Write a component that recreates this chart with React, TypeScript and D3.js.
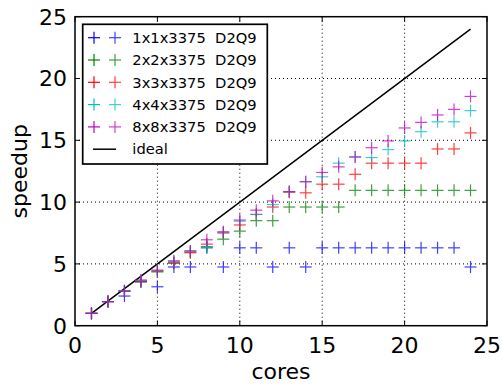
import * as d3 from 'd3';

const cores = [1, 2, 3, 4, 5, 6, 7, 8, 9, 10, 11, 12, 13, 14, 15, 16, 17, 18, 19, 20, 21, 22, 23, 24];

const s1x1 = [1.0, 1.95, 2.4, 3.55, 3.15, 4.75, 4.75, 6.3, 4.75, 6.3, 6.3, 4.75, 6.3, 4.75, 6.3, 6.3, 6.3, 6.3, 6.3, 6.3, 6.3, 6.3, 6.3, 4.75];
const s2x2 = [1.0, 1.95, 2.8, 3.55, 4.35, 5.05, 5.95, 6.4, 7.0, 7.65, 8.5, 8.5, 9.6, 9.6, 9.6, 9.6, 10.95, 10.95, 10.95, 10.95, 10.95, 10.95, 10.95, 10.95];
const s3x3 = [1.0, 1.95, 2.8, 3.6, 4.4, 5.1, 5.9, 6.6, 7.5, 8.15, 9.0, 9.6, 10.8, 10.75, 11.45, 11.45, 12.25, 13.15, 13.15, 13.15, 13.15, 14.3, 14.3, 15.6];
const s4x4 = [1.0, 1.95, 2.85, 3.65, 4.45, 5.2, 6.05, 6.35, 7.55, 8.45, 9.0, 9.8, 10.85, 11.65, 12.05, 13.15, 13.65, 13.6, 14.25, 14.95, 15.7, 16.5, 16.5, 17.4];
const s8x8 = [1.0, 1.95, 2.8, 3.7, 4.5, 5.25, 6.05, 6.95, 7.6, 8.55, 9.35, 10.1, 10.85, 11.65, 12.4, 12.85, 13.65, 14.4, 14.95, 16.0, 16.45, 17.05, 17.5, 18.55];

const seriesNames = ['1x1x3375  D2Q9', '2x2x3375  D2Q9', '3x3x3375  D2Q9', '4x4x3375  D2Q9', '8x8x3375  D2Q9'];
const seriesColors = ['#0000ff', '#008000', '#ff0000', '#00bfbf', '#bf00bf'];
const seriesValues = [s1x1, s2x2, s3x3, s4x4, s8x8];

const ideal = [1, 24];
const ticks = [0, 5, 10, 15, 20, 25];

const font = 'DejaVu Sans, sans-serif';

// one "+" marker
const Plus = ({ x, y, color, opacity }: { x: number; y: number; color: string; opacity: number }) => (
  <g stroke={color} strokeWidth={1.2} opacity={opacity}>
    <line x1={x - 6} x2={x + 6} y1={y} y2={y} />
    <line x1={x} x2={x} y1={y - 6} y2={y + 6} />
  </g>
);

export default function App() {
  const W = 502;
  const H = 385;
  const left = 75, right = 487, top = 16.7, bottom = 325.7;

  const x = d3.scaleLinear().domain([0, 25]).range([left, right]);
  const y = d3.scaleLinear().domain([0, 25]).range([bottom, top]);

  const lineGen = d3.line<number>().x(d => x(d)).y(d => y(d));

  const legX = 82.7, legY = 24.3, legW = 184.6, legH = 139.7;
  const rowY = (i: number) => 37.7 + i * 22.3;

  return (
    <div style={{ position: 'absolute', left: 0, top: 0 }}>
      <svg width={W} height={H} style={{ display: 'block', background: 'white' }}>
        {/* grid */}
        {ticks.slice(1, -1).map(t => (
          <g key={'g' + t} stroke="black" strokeWidth={1} strokeDasharray="1,3">
            <line x1={x(t)} x2={x(t)} y1={top} y2={bottom} />
            <line x1={left} x2={right} y1={y(t)} y2={y(t)} />
          </g>
        ))}

        {/* ideal line */}
        <path d={lineGen(ideal) || ''} fill="none" stroke="black" strokeWidth={1.5} />

        {/* markers */}
        {seriesValues.map((vals, si) =>
          vals.map((v, i) => (
            <Plus key={si + '-' + i} x={x(cores[i])} y={y(v)} color={seriesColors[si]} opacity={0.75} />
          ))
        )}

        {/* ticks inside, all four sides */}
        {ticks.map(t => (
          <g key={'t' + t} stroke="black" strokeWidth={1}>
            <line x1={x(t)} x2={x(t)} y1={bottom} y2={bottom - 5} />
            <line x1={x(t)} x2={x(t)} y1={top} y2={top + 5} />
            <line x1={left} x2={left + 5} y1={y(t)} y2={y(t)} />
            <line x1={right} x2={right - 5} y1={y(t)} y2={y(t)} />
          </g>
        ))}

        {/* frame */}
        <rect x={left} y={top} width={right - left} height={bottom - top} fill="none" stroke="black" strokeWidth={1.5} />

        {/* tick labels */}
        {ticks.map(t => (
          <text key={'xl' + t} x={x(t)} y={bottom + 27} textAnchor="middle" fontFamily={font} fontSize={22}>{t}</text>
        ))}
        {ticks.map(t => (
          <text key={'yl' + t} x={left - 8} y={y(t)} dy="0.36em" textAnchor="end" fontFamily={font} fontSize={22}>{t}</text>
        ))}

        {/* axis labels */}
        <text x={(left + right) / 2} y={379} textAnchor="middle" fontFamily={font} fontSize={22}>cores</text>
        <text transform={`translate(27,${(top + bottom) / 2}) rotate(-90)`} textAnchor="middle" fontFamily={font} fontSize={22}>speedup</text>

        {/* legend */}
        <rect x={legX} y={legY} width={legW} height={legH} fill="white" stroke="black" strokeWidth={1.7} />
        {seriesNames.map((name, i) => (
          <g key={'leg' + i}>
            <Plus x={94} y={rowY(i)} color={seriesColors[i]} opacity={1} />
            <Plus x={115} y={rowY(i)} color={seriesColors[i]} opacity={0.75} />
            <text x={132.3} y={rowY(i)} dy="0.36em" fontFamily={font} fontSize={14.7} style={{ whiteSpace: 'pre' }}>{name}</text>
          </g>
        ))}
        <line x1={93} x2={116} y1={rowY(5)} y2={rowY(5)} stroke="black" strokeWidth={1.5} />
        <text x={132.3} y={rowY(5)} dy="0.36em" fontFamily={font} fontSize={14.7}>ideal</text>
      </svg>
    </div>
  );
}
